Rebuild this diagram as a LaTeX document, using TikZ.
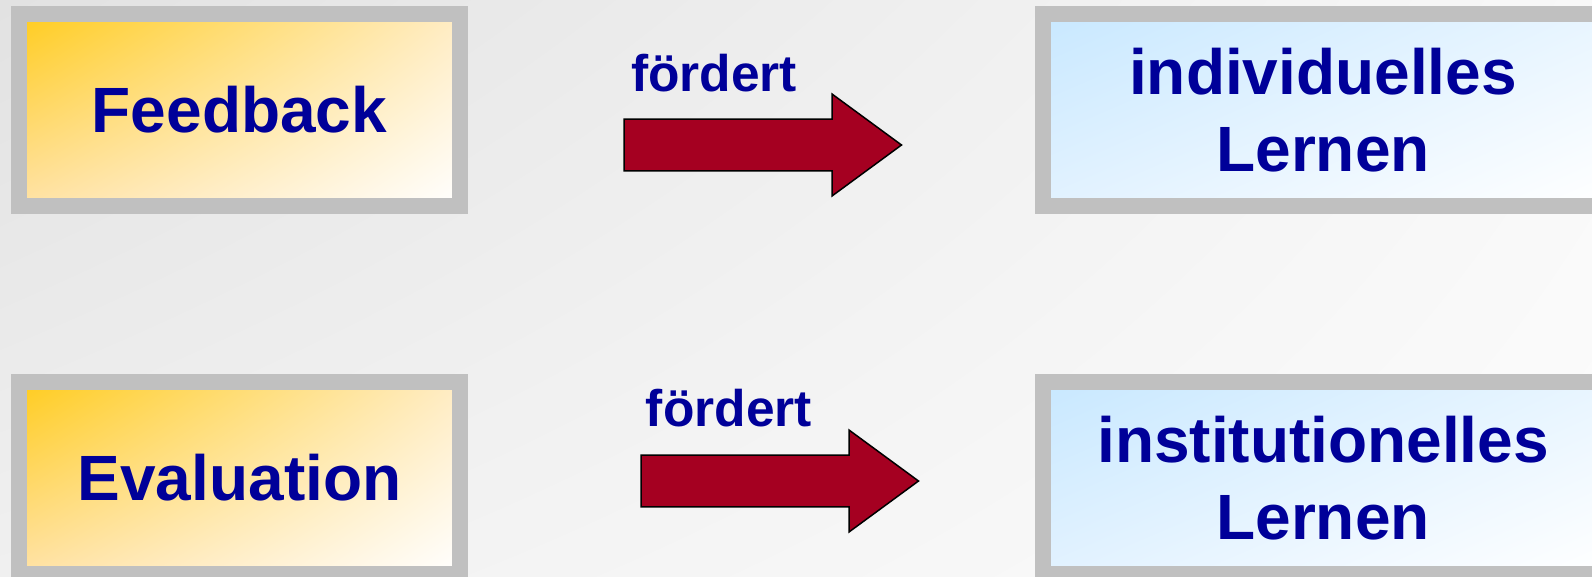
\documentclass[tikz,border=0pt]{standalone}
\usepackage{fontspec}
\usetikzlibrary{shadings}
\setmainfont{Liberation Sans}
\definecolor{txtblue}{RGB}{0,0,153}
\definecolor{arrred}{RGB}{165,0,33}
\definecolor{framegray}{RGB}{192,192,192}
\definecolor{bgA}{RGB}{226,226,226}
\definecolor{bgB}{RGB}{248,248,248}
\definecolor{bgC}{RGB}{240,240,240}
\definecolor{bgD}{RGB}{252,252,252}
\definecolor{orA}{RGB}{255,204,30}
\definecolor{orB}{RGB}{255,236,196}
\definecolor{orC}{RGB}{255,226,166}
\definecolor{blA}{RGB}{200,232,255}
\definecolor{blB}{RGB}{232,245,255}
\definecolor{blC}{RGB}{226,242,255}
\begin{document}
\begin{tikzpicture}[x=1pt,y=-1pt,
  frame/.style={draw=framegray, line width=16pt, shade, minimum height=192pt,
    inner sep=0pt, align=center, text=txtblue,
    font=\bfseries\fontsize{64}{77.5}\selectfont},
  srcbox/.style={frame, minimum width=441pt,
    upper left=orA, upper right=orB, lower left=orC, lower right=white},
  dstbox/.style={frame, minimum width=560pt,
    upper left=blA, upper right=blB, lower left=blC, lower right=white},
  lbl/.style={anchor=base west, inner sep=0pt, text=txtblue,
    font=\bfseries\fontsize{51.5}{60}\selectfont},
  blockarrow/.pic={
    \draw[fill=arrred, draw=black, line width=1.5pt, line join=miter]
      (0,-25.8) -- (208,-25.8) -- (208,-51) -- (277.5,0) -- (208,51)
      -- (208,25.8) -- (0,25.8) -- cycle;
  }
]
\useasboundingbox (0,0) rectangle (1592,576);
\shade[upper left=bgA, upper right=bgB, lower left=bgC, lower right=bgD]
  (0,0) rectangle (1592,576);

\node[srcbox] (fb) at (239.5,110) {Feedback};
\node[srcbox] (ev) at (239.5,478) {Evaluation};
\node[dstbox] (il) at (1323,110) {individuelles\\Lernen};
\node[dstbox] (inl) at (1323,478) {institutionelles\\Lernen};

\pic at (624,145) {blockarrow};
\pic at (641,481) {blockarrow};

\node[lbl] (f1) at (631,91.7) {fördert};
\node[lbl] (f2) at (645.7,426.7) {fördert};
\end{tikzpicture}
\end{document}
